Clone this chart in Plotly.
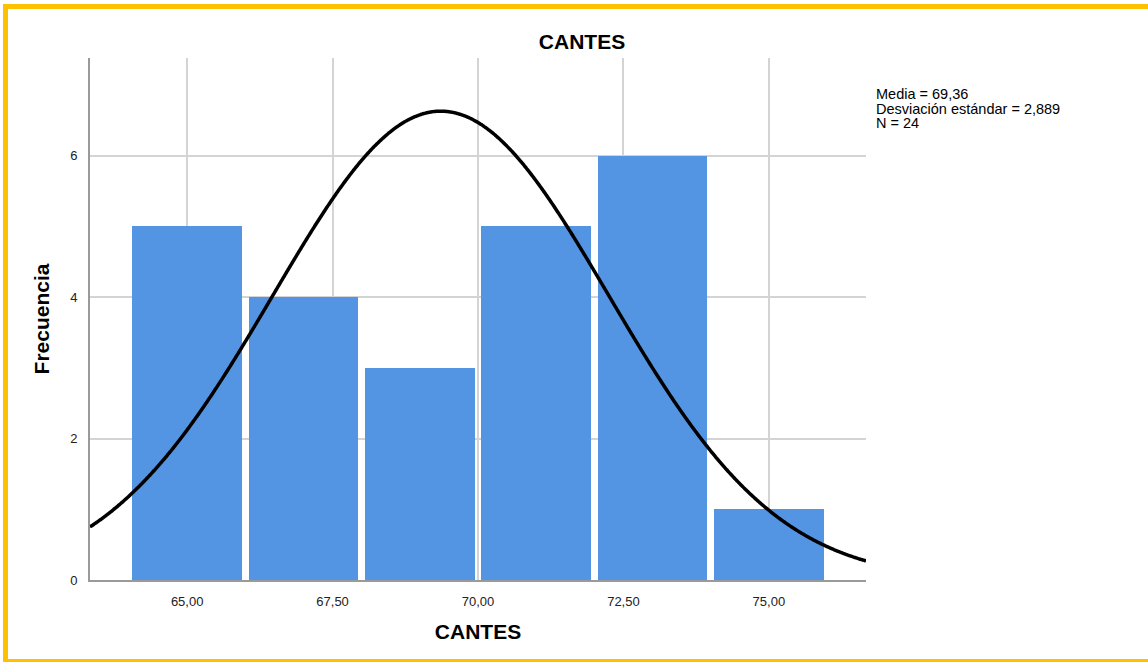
import numpy as np
import plotly.graph_objects as go

# Histogram bins (centre of each 2-unit bin) and frequencies
bin_centers = [65, 67, 69, 71, 73, 75]
frequencies = [5, 4, 3, 5, 6, 1]
bin_width = 2.0

# Summary statistics shown beside the chart
media = 69.36
desviacion = 2.889
n_total = 24

x_tick_vals = [65.0, 67.5, 70.0, 72.5, 75.0]
x_tick_text = ["65,00", "67,50", "70,00", "72,50", "75,00"]
y_tick_vals = [0, 2, 4, 6]
y_tick_text = ["0", "2", "4", "6"]

x_range = [63.33, 76.67]
y_range = [0, 7.38]

# Normal curve scaled to the histogram counts
xs = np.linspace(x_range[0], x_range[1], 600)
ys = n_total * bin_width / (desviacion * np.sqrt(2 * np.pi)) * np.exp(-0.5 * ((xs - media) / desviacion) ** 2)

fig = go.Figure()
fig.add_trace(go.Bar(
    x=bin_centers, y=frequencies, width=bin_width * 0.945,
    marker=dict(color="#5495E3", line=dict(width=0)),
    hoverinfo="x+y",
))
fig.add_trace(go.Scatter(
    x=xs, y=ys, mode="lines",
    line=dict(color="#000000", width=3.5, shape="spline"),
    hoverinfo="skip",
))

W, H = 1148, 662
L, R, T, B = 90, 866, 58, 580

def px_x(p):
    return (p - L) / (R - L)

def px_y(p):
    return (B - p) / (B - T)

border = "#FFC000"
shapes = [
    dict(type="rect", xref="paper", yref="paper", x0=px_x(3), x1=px_x(1148), y0=px_y(4), y1=px_y(9),
         fillcolor=border, line=dict(width=0), layer="above"),
    dict(type="rect", xref="paper", yref="paper", x0=px_x(3), x1=px_x(8), y0=px_y(4), y1=px_y(662),
         fillcolor=border, line=dict(width=0), layer="above"),
    dict(type="rect", xref="paper", yref="paper", x0=px_x(3), x1=px_x(1148), y0=px_y(659), y1=px_y(662),
         fillcolor=border, line=dict(width=0), layer="above"),
]

font_family = "Liberation Sans, Arial, sans-serif"
stats_lines = [
    f"Media = {media:.2f}".replace(".", ","),
    f"Desviación estándar = {desviacion:.3f}".replace(".", ","),
    f"N = {n_total}",
]
annotations = []
for i, line in enumerate(stats_lines):
    annotations.append(dict(
        text=line, xref="paper", yref="paper", x=px_x(874), y=px_y(84 + i * 14.5),
        xanchor="left", yanchor="top", showarrow=False,
        font=dict(family=font_family, size=14.5, color="#000000"),
    ))

fig.update_layout(
    width=W, height=H,
    margin=dict(l=L, r=W - R, t=T, b=H - B, pad=0),
    paper_bgcolor="white", plot_bgcolor="white",
    showlegend=False, bargap=0,
    title=dict(text="<b>CANTES</b>", x=582 / W, xref="container", xanchor="center",
               y=1 - 42 / H, yref="container", yanchor="middle",
               font=dict(family=font_family, size=21, color="#000000")),
    shapes=shapes, annotations=annotations,
    font=dict(family=font_family, color="#000000"),
)
fig.update_xaxes(
    range=x_range, tickvals=x_tick_vals, ticktext=x_tick_text,
    showgrid=True, gridcolor="#D4D4D4", gridwidth=2,
    showline=True, linecolor="#9A9A9A", linewidth=2,
    zeroline=False, ticks="", ticklabelstandoff=8,
    tickfont=dict(family=font_family, size=13, color="#222222"),
    title=dict(text="<b>CANTES</b>", standoff=17,
               font=dict(family=font_family, size=21, color="#000000")),
)
fig.update_yaxes(
    range=y_range, tickvals=y_tick_vals, ticktext=y_tick_text,
    showgrid=True, gridcolor="#D4D4D4", gridwidth=2,
    showline=True, linecolor="#9A9A9A", linewidth=2,
    zeroline=False, ticks="", ticklabelstandoff=8,
    tickfont=dict(family=font_family, size=13, color="#222222"),
    title=dict(text="<b>Frecuencia</b>", standoff=15,
               font=dict(family=font_family, size=21, color="#000000")),
)

fig.write_html("out.html")
